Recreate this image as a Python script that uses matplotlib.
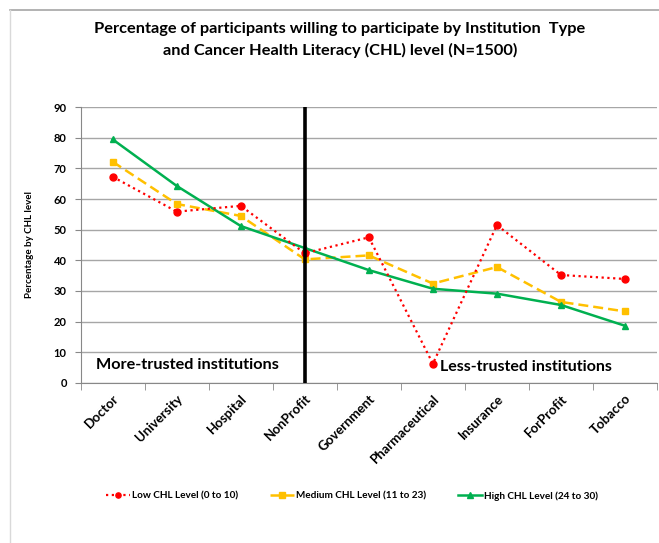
import matplotlib
matplotlib.use("Agg")
import matplotlib.pyplot as plt
from matplotlib.lines import Line2D

plt.rcParams['font.family'] = ['Lato', 'DejaVu Sans']

institutions = ["Doctor", "University", "Hospital", "NonProfit", "Government",
                "Pharmaceutical", "Insurance", "ForProfit", "Tobacco"]
low_chl = [67.3, 55.9, 57.8, 42.3, 47.5, 6.2, 51.5, 35.2, 33.9]
medium_chl = [72.2, 58.4, 54.5, 40.3, 41.6, 32.4, 37.8, 26.4, 23.3]
high_chl = [79.5, 64.3, 51.2, 44.0, 36.8, 30.7, 29.1, 25.4, 18.6]
y_ticks = list(range(0, 91, 10))
divider_index = 3

W, H = 659, 543
fig = plt.figure(figsize=(W / 100, H / 100), dpi=100)

# outer frame lines
fig.add_artist(Line2D([10 / W, 1], [1 - 10 / H, 1 - 10 / H], color="#a6a6a6", lw=1.2))
fig.add_artist(Line2D([10 / W, 10 / W], [0, 1 - 10 / H], color="#d9d9d9", lw=1.0))

ax = fig.add_axes([80.7 / W, 1 - 382.7 / H, (657 - 80.7) / W, (382.7 - 107.3) / H])
x = list(range(len(institutions)))

ax.plot(x, low_chl, color="#ff0000", ls=(0, (1, 1.6)), lw=1.6, marker="o", ms=5,
        label="Low CHL Level (0 to 10)", zorder=4)
ax.plot(x, medium_chl, color="#ffc000", ls=(0, (4, 2)), lw=1.8, marker="s", ms=5,
        label="Medium CHL Level (11 to 23)", zorder=3)
ax.plot(x, high_chl, color="#00b050", ls="-", lw=1.8, marker="^", ms=5,
        label="High CHL Level (24 to 30)", zorder=3)

ax.plot([divider_index, divider_index], [0, 90], color="black", lw=2.6, zorder=5)

ax.set_xlim(-0.5, len(institutions) - 0.5)
ax.set_ylim(0, 90)
ax.set_yticks(y_ticks)
ax.set_yticklabels([str(v) for v in y_ticks], fontsize=8, fontweight="bold")
ax.set_xticks(x)
ax.set_xticklabels(institutions, rotation=45, ha="right", rotation_mode="anchor",
                   fontsize=9.5, fontweight="bold")
ax.tick_params(axis="x", length=0, pad=7)
ax.set_xticks([i - 0.5 for i in range(len(institutions) + 1)], minor=True)
ax.tick_params(axis="x", which="minor", length=5, color="#888888")
ax.tick_params(axis="y", length=4, color="#888888", pad=6)

ax.grid(axis="y", color="#a6a6a6", lw=1.0)
ax.set_axisbelow(True)
for s in ["top", "right"]:
    ax.spines[s].set_visible(False)
ax.spines["left"].set_color("#888888")
ax.spines["bottom"].set_color("#888888")

ax.set_ylabel("Percentage by CHL level", fontsize=7, fontweight="bold", labelpad=14)

ax.text(96, H - 365, "More-trusted institutions", transform=None, fontsize=11.7,
        fontweight="bold", va="center")
ax.text(440, H - 367, "Less-trusted institutions", transform=None, fontsize=11.5,
        fontweight="bold", va="center")

fig.text(340 / W, 1 - 40 / H,
         "Percentage of participants willing to participate by Institution  Type\n"
         "and Cancer Health Literacy (CHL) level (N=1500)",
         ha="center", va="center", fontsize=11.8, fontweight="bold", linespacing=1.5)

fig.legend(loc="center", bbox_to_anchor=(352 / W, 1 - 496 / H), ncol=3, frameon=False,
           prop={"weight": "bold", "size": 7.2}, handlelength=2.4, markerscale=0.75,
           columnspacing=3.2, handletextpad=0.2)

fig.savefig("out.png", dpi=100)
